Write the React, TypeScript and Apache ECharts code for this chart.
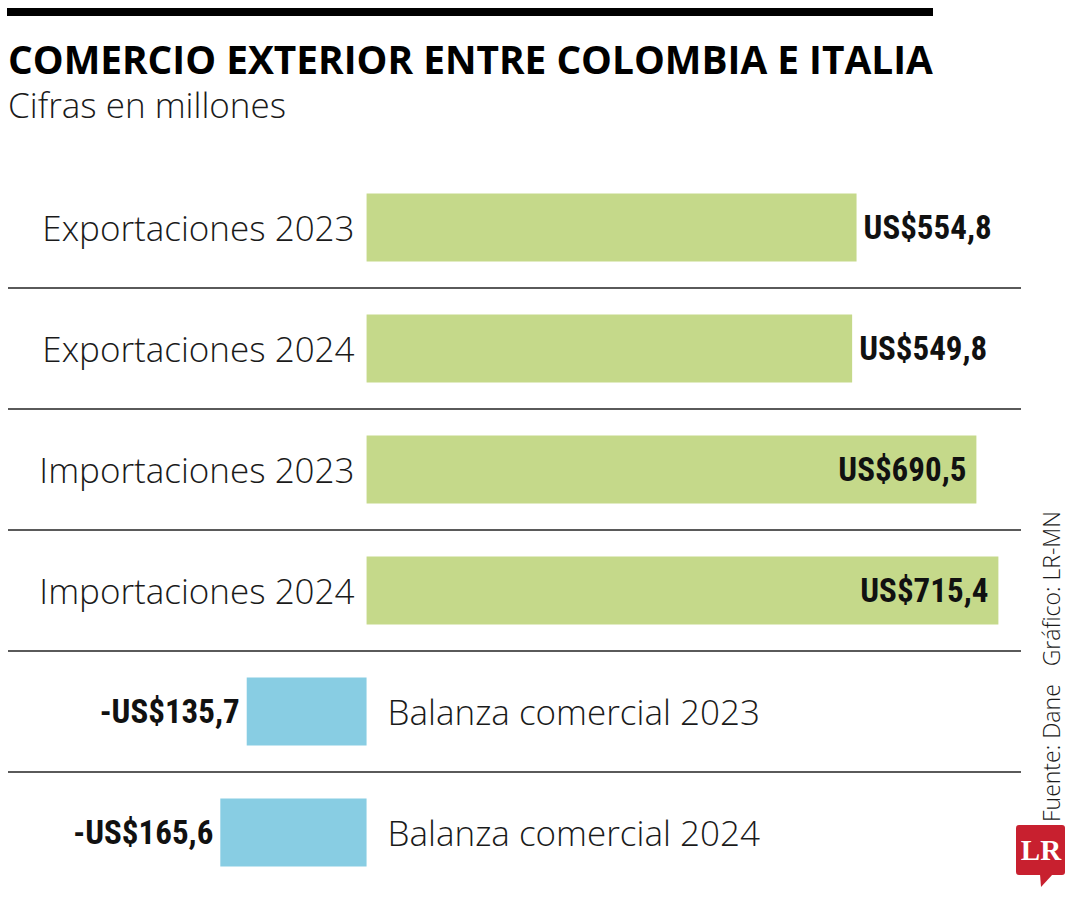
import React, { useEffect, useRef } from 'react';
import * as echarts from 'echarts';

const categories = [
  'Exportaciones 2023',
  'Exportaciones 2024',
  'Importaciones 2023',
  'Importaciones 2024',
  'Balanza comercial 2023',
  'Balanza comercial 2024',
];
const values = [554.8, 549.8, 690.5, 715.4, -135.7, -165.6];
const titleText = 'COMERCIO EXTERIOR ENTRE COLOMBIA E ITALIA';
const subtitleText = 'Cifras en millones';
const sourceText = 'Fuente: Dane   Gráfico: LR-MN';
const logoText = 'LR';

const GREEN = '#c5d98a';
const BLUE = '#88cde3';
const LINE = '#5a5a5a';

function fmt(v: number) {
  const s = Math.abs(v).toFixed(1).replace('.', ',');
  return (v < 0 ? '-' : '') + 'US$' + s;
}

function measure(text: string, font: string) {
  const ctx = document.createElement('canvas').getContext('2d');
  if (!ctx) return 0;
  ctx.font = font;
  return ctx.measureText(text).width;
}

export default function App() {
  const ref = useRef<HTMLDivElement>(null);
  useEffect(() => {
    if (!ref.current) return;
    const chart = echarts.init(ref.current, undefined, { renderer: 'svg' });
    const titleFont = '700 40px "Open Sans"';
    const tw = measure(titleText, titleFont) || 925;
    const titleScale = 925 / tw;

    const option: any = {
      animation: false,
      backgroundColor: '#ffffff',
      grid: { left: 8, right: 59, top: 167, bottom: 7, containLabel: false },
      xAxis: {
        type: 'value',
        min: -406,
        max: 741,
        show: false,
      },
      yAxis: {
        type: 'category',
        inverse: true,
        data: categories,
        axisLabel: { show: false },
        axisTick: { show: false },
        axisLine: { show: false },
        splitLine: {
          show: true,
          showMinLine: false,
          showMaxLine: false,
          lineStyle: { color: LINE, width: 2 },
        },
      },
      series: [
        {
          type: 'bar',
          name: 'categorias',
          barWidth: 68,
          barGap: '-100%',
          silent: true,
          itemStyle: { color: 'rgba(0,0,0,0)' },
          data: values.map((v) => ({
            value: v,
            label: { position: v < 0 ? 'right' : 'left', distance: v < 0 ? 21 : 12 },
          })),
          label: {
            show: true,
            formatter: '{b}',
            fontFamily: '"Open Sans"',
            fontWeight: 300,
            fontSize: 35,
            color: '#1a1a1a',
          },
          z: 2,
        },
        {
          type: 'bar',
          name: 'valores',
          barWidth: 68,
          barGap: '-100%',
          data: values.map((v) => ({
            value: v,
            itemStyle: { color: v < 0 ? BLUE : GREEN },
            label: {
              position: v < 0 ? 'left' : v > 600 ? 'insideRight' : 'right',
              distance: v > 600 ? 10 : 7,
            },
          })),
          label: {
            show: true,
            formatter: (p: any) => fmt(p.value),
            fontFamily: '"Liberation Sans Narrow", "Roboto Condensed", Roboto, sans-serif',
            fontWeight: 'bold',
            fontSize: 33,
            color: '#111111',
          },
          z: 3,
        },
      ],
      graphic: [
        { type: 'rect', shape: { x: 7, y: 8, width: 926, height: 8 }, style: { fill: '#000' } },
        {
          type: 'text',
          x: 8,
          y: 59,
          scaleX: titleScale,
          style: {
            text: titleText,
            font: titleFont,
            fill: '#000',
            align: 'left',
            verticalAlign: 'middle',
          },
        },
        {
          type: 'text',
          x: 8,
          y: 104,
          style: {
            text: subtitleText,
            font: '300 35px "Open Sans"',
            fill: '#1a1a1a',
            align: 'left',
            verticalAlign: 'middle',
          },
        },
        {
          type: 'text',
          x: 1051,
          y: 822,
          rotation: Math.PI / 2,
          style: {
            text: sourceText,
            font: '300 23px "Open Sans"',
            fill: '#1a1a1a',
            align: 'left',
            verticalAlign: 'middle',
          },
        },
        {
          type: 'rect',
          shape: { x: 1016, y: 825, width: 49, height: 50, r: 3 },
          style: { fill: '#c8202f' },
        },
        {
          type: 'polygon',
          shape: { points: [[1040, 874], [1053, 874], [1041, 887]] },
          style: { fill: '#c8202f' },
        },
        {
          type: 'text',
          x: 1041,
          y: 850,
          style: {
            text: logoText,
            font: 'bold 29px "Liberation Serif", "DejaVu Serif", serif',
            fill: '#ffffff',
            align: 'center',
            verticalAlign: 'middle',
          },
        },
      ],
    };
    chart.setOption(option);
    return () => chart.dispose();
  }, []);
  return (
    <div
      ref={ref}
      style={{ position: 'fixed', left: 0, top: 0, width: 1080, height: 900, background: '#fff' }}
    />
  );
}
